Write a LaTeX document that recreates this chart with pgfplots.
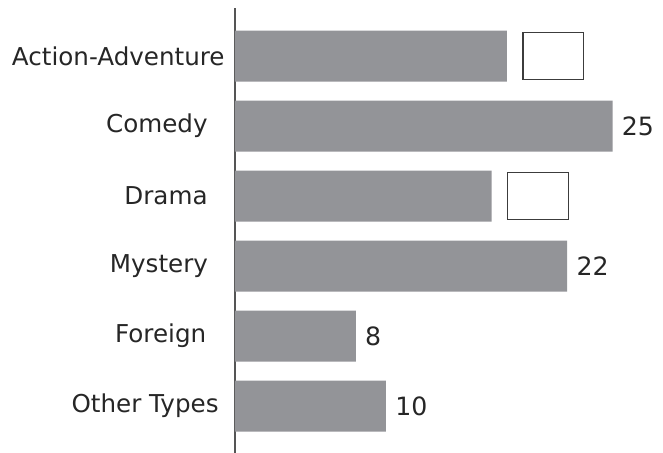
\documentclass[border=0pt]{standalone}
\usepackage{fontspec}
\setmainfont{DejaVu Sans}
\usepackage{pgfplots}
\pgfplotsset{compat=1.18}
\definecolor{bargray}{RGB}{147,148,152}
\definecolor{axgray}{RGB}{85,85,85}
\definecolor{boxgray}{RGB}{60,60,60}
\setlength{\fboxsep}{0pt}
\setlength{\fboxrule}{0.6bp}
\newcommand\ansbox{\textcolor{boxgray}{\fbox{\rule{0pt}{22.8bp}\hspace{29.8bp}}}}
\newcommand\gap[1]{\rule{#1}{0pt}}
\begin{document}
\begin{tikzpicture}
\begin{axis}[
  scale only axis, width=211.4bp, height=222.5bp,
  xmin=0, xmax=28, ymin=-0.686, ymax=5.671, y dir=reverse,
  enlargelimits=false,
  axis x line=none, axis y line=left,
  axis line style={-, draw=axgray, line width=1bp},
  ytick={0,1,2,3,4,5},
  yticklabels={Action-Adventure, Comedy\gap{8.5bp}, Drama\gap{8.5bp}, Mystery\gap{8.3bp}, Foreign\gap{9.2bp}, Other Types\gap{3bp}},
  major tick length=0pt,
  yticklabel style={anchor=east, inner sep=0pt, xshift=-5bp, text=black!85, font=\fontsize{12.3bp}{15bp}\selectfont},
  xbar, bar width=25.5bp, bar shift=0pt,
  every node near coord/.append style={anchor=west, inner sep=0pt, xshift=4.5bp, text=black!85, font=\fontsize{12.6bp}{15bp}\selectfont},
  /pgf/number format/assume math mode=true,
  clip=false,
]
\addplot[fill=bargray, draw=none, nodes near coords] coordinates {(25,1) (22,3) (8,4) (10,5)};
\addplot[fill=bargray, draw=none, nodes near coords={\ansbox}, every node near coord/.append style={xshift=3.1bp, draw=none}] coordinates {(18,0) (17,2)};
\coordinate (o) at (axis cs:0,-0.686);
\end{axis}
\pgfresetboundingbox
\path[use as bounding box] ([shift={(-117.5bp,4bp)}]o) rectangle ([shift={(214bp,-222.5bp)}]o);
\end{tikzpicture}
\end{document}
